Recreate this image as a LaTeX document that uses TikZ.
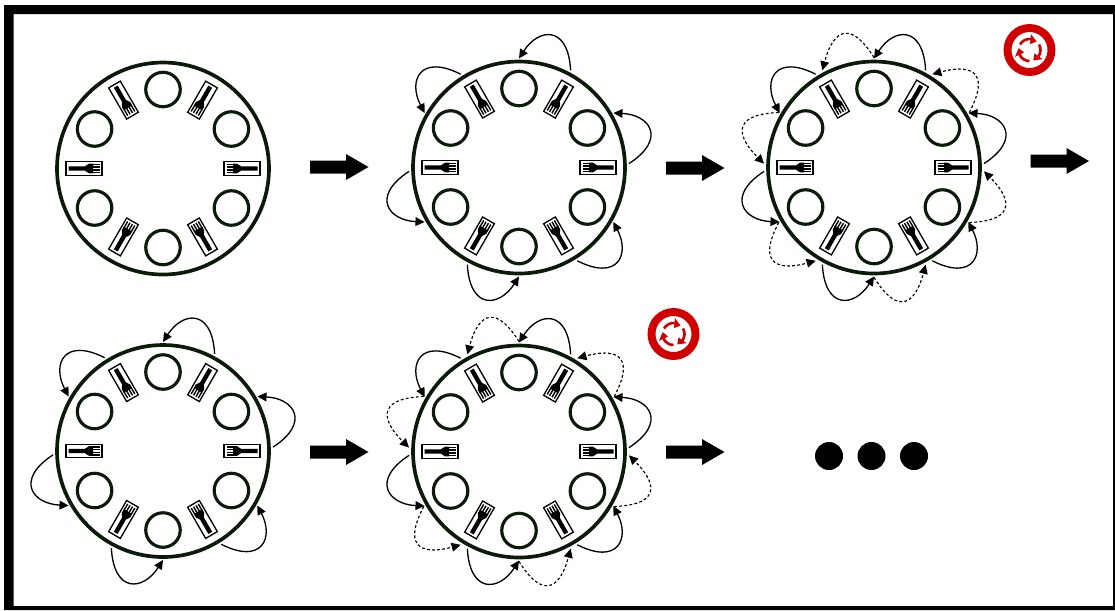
\documentclass[tikz,border=0pt]{standalone}
\usepackage{tikz}
\usetikzlibrary{arrows.meta,calc}
\tikzset{>={Triangle[length=5.2pt,width=5pt]}}
\definecolor{rimcolor}{HTML}{0C1A0C}
\definecolor{signred}{HTML}{D00000}
\newlength{\pxu}
\setlength{\pxu}{0.02cm}
\tikzset{
    tablering/.style={circle,draw=rimcolor,line width=2.1pt,minimum size=212\pxu,inner sep=0pt,outer sep=0pt},
    plate/.style={circle,draw=rimcolor,line width=1.8pt,minimum size=34.5\pxu,inner sep=0pt},
    forkbox/.style={rectangle,draw=black,line width=0.75pt,minimum width=36\pxu,minimum height=13.5\pxu,inner sep=0pt},
    eatarrow/.style={->,line width=0.75pt},
    waitarrow/.style={->,line width=0.65pt,dash pattern=on 1.6pt off 1.3pt},
    bigdot/.style={circle,fill=black,minimum size=28\pxu,inner sep=0pt},
    signring/.style={circle,draw=signred,line width=4.5pt,minimum size=44\pxu,inner sep=0pt},
}
% table with its plates and forks
\newcommand{\dinnertable}[3]{
    \node[tablering] (#1) at (#2,#3) {};
    \foreach \a in {30,90,...,330}
        \node[plate] (#1p\a) at ($(#1)+(-\a:79)$) {};
    \foreach \a in {0,60,...,300} {
        \node[forkbox,rotate=\a] (#1f\a) at ($(#1)+(-\a:79)$) {};
        \begin{scope}[shift={(#1f\a)},rotate=\a]
            \fill (15.5,-2.2) -- (-1,-2.2) -- (-5,-4.8) -- (-9,-4.8) -- (-9,4.8) -- (-5,4.8) -- (-1,2.2) -- (15.5,2.2) -- cycle;
            \foreach \y in {-4.1,-1.4,1.4,4.1}
                \draw[line width=0.8pt] (-8,\y) -- (-15.5,\y);
        \end{scope}
    }
}
% arrows around the rim, solid set
\newcommand{\eatset}[1]{
    \foreach \a [evaluate=\a as \c using int(\a+9), evaluate=\a as \d using int(\a+20), evaluate=\a as \e using int(\a+28)] in {2,62,...,302} {
        \coordinate (#1s\a) at ($(#1)+(-\a:110)$);
        \coordinate (#1e\a) at ($(#1)+(-\e:109)$);
        \draw[eatarrow] (#1s\a) .. controls ($(#1)+(-\c:151)$) and ($(#1)+(-\d:141)$) .. (#1e\a);
    }
}
% arrows around the rim, dotted set
\newcommand{\waitset}[1]{
    \foreach \a [evaluate=\a as \c using int(\a+10), evaluate=\a as \d using int(\a+18), evaluate=\a as \e using int(\a+28)] in {30,90,...,330} {
        \coordinate (#1s\a) at ($(#1)+(-\a:110)$);
        \coordinate (#1e\a) at ($(#1)+(-\e:110)$);
        \draw[waitarrow] (#1s\a) .. controls ($(#1)+(-\c:155)$) and ($(#1)+(-\d:138)$) .. (#1e\a);
    }
}
% fat arrow between tables
\newcommand{\fatarrow}[3]{
    \coordinate (#1) at (#2,#3);
    \fill ($(#1)+(0,6.5)$) -- ++(36,0) -- ++(0,6.5) -- ++(22.5,-13) -- ++(-22.5,-13) -- ++(0,6.5) -- ++(-36,0) -- cycle;
}
% red round sign
\newcommand{\cyclesign}[3]{
    \node[signring] (#1) at (#2,#3) {};
    \foreach \a in {-135,-15,105} {
        \draw[signred,line width=1.5pt] ($(#1)+(\a-15:11)$) arc[start angle=\a-15,end angle=\a+52,radius=11];
        \fill[signred] ($(#1)+(\a+85:11)$) -- ($(#1)+(\a+50:16)$) -- ($(#1)+(\a+50:6)$) -- cycle;
    }
}

\begin{document}
\begin{tikzpicture}[x=0.02cm,y=-0.02cm]
    % page and frame
    \useasboundingbox (0,0) rectangle (1115,610);
    \fill[even odd rule] (4,5) rectangle (1115,610) (13.5,14) rectangle (1113,606);
    % set up the tables
    \dinnertable{ta}{163}{168.5}
    \dinnertable{tb}{519}{167.5}
    \dinnertable{tc}{874}{167.5}
    \dinnertable{td}{163}{451}
    \dinnertable{te}{519}{451.5}
    % arrows around the tables
    \eatset{tb}
    \eatset{tc}
    \waitset{tc}
    \eatset{td}
    \eatset{te}
    \waitset{te}
    % fat arrows
    \fatarrow{fa}{310}{167}
    \fatarrow{fb}{666}{168}
    \fatarrow{fc}{1030.5}{161}
    \fatarrow{fd}{310}{452}
    \fatarrow{fe}{666}{452}
    % signs
    \cyclesign{sa}{1029.5}{50}
    \cyclesign{sb}{673.5}{334}
    % three dots
    \node[bigdot] (da) at (829,456) {};
    \node[bigdot] (db) at (871.5,456) {};
    \node[bigdot] (dc) at (914,456) {};
\end{tikzpicture}
\end{document}
